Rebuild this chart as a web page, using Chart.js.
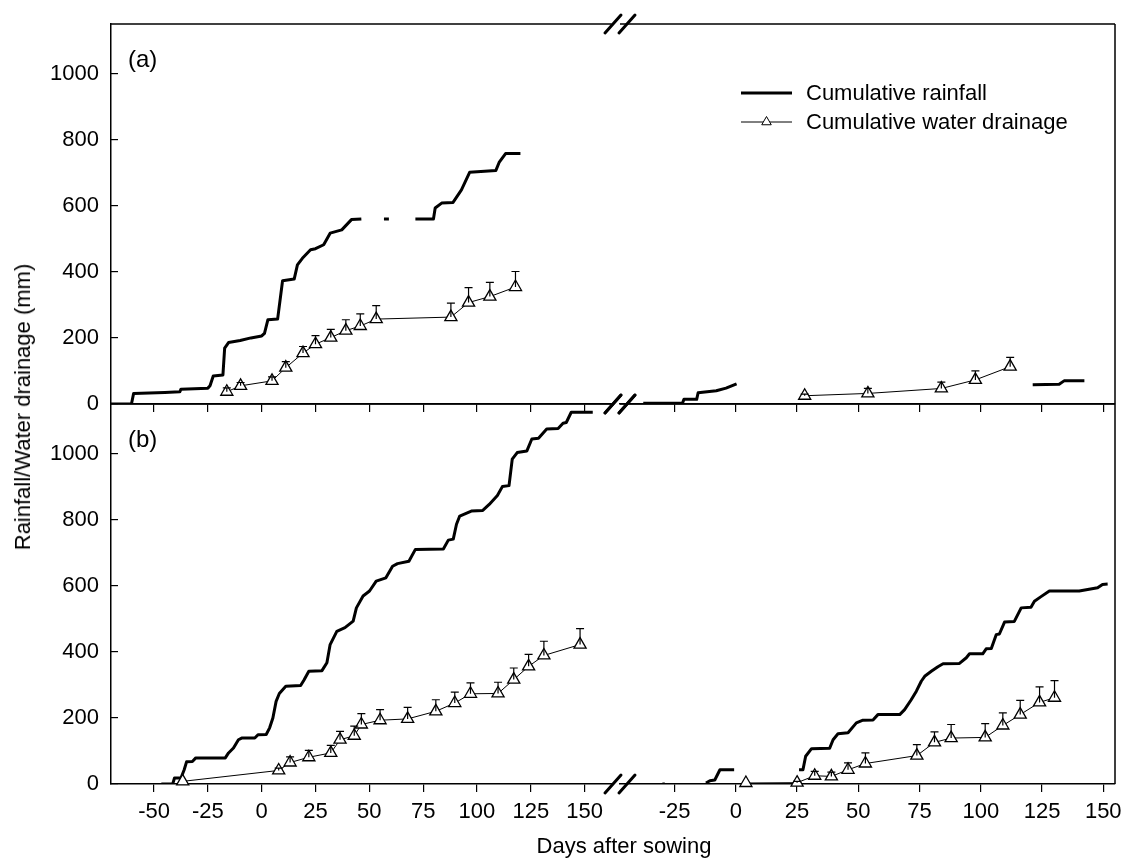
<!DOCTYPE html>
<html>
<head>
<meta charset="utf-8">
<script src="https://cdn.jsdelivr.net/npm/chart.js@4.4.1/dist/chart.umd.min.js"></script>
<style>
    body { margin: 0; background: #fff; }
    #wrap { position: relative; width: 1136px; height: 858px; overflow: hidden; font-family: "Liberation Sans", Arial, sans-serif; color: #000; }
    canvas { position: absolute; }
    #yTitle { position: absolute; left: 23px; top: 407px; transform: translate(-50%, -50%) rotate(-90deg); font-size: 22px; white-space: nowrap; }
    #xTitle { position: absolute; left: 624px; top: 846px; transform: translate(-50%, -50%); font-size: 22px; white-space: nowrap; }
</style>
</head>
<body>
<div id="wrap">
    <canvas id="chartAL" width="620" height="420" style="left:0;top:0"></canvas>
    <canvas id="chartAR" width="546" height="420" style="left:590px;top:0"></canvas>
    <canvas id="chartBL" width="620" height="478" style="left:0;top:380px"></canvas>
    <canvas id="chartBR" width="546" height="478" style="left:590px;top:380px"></canvas>
    <div id="yTitle">Rainfall/Water drainage (mm)</div>
    <div id="xTitle">Days after sowing</div>
</div>
<script>
// Eksen etiketleri
const leftDayTicks = [-50, -25, 0, 25, 50, 75, 100, 125, 150];
const rightDayTicks = [-25, 0, 25, 50, 75, 100, 125, 150];
const mmTicks = [0, 200, 400, 600, 800, 1000];
const legendLabels = ["Cumulative rainfall", "Cumulative water drainage"];

// (a) sol: kümülatif yağış (null = boşluk)
const rainA1Days = [-70, -60.5, -59.5, -45, -38, -37.5, -25, -24, -22.5, -18, -17.2, -15.4, -10, -5, 0, 1.3, 2.9, 7.4, 9.7, 15.1, 16.6, 18.9, 22.7, 25, 28.8, 31.8, 37.2, 41.7, 46.3, 46.8, 56.8, 59.1, 59.5, 71.4, 79.8, 80.6, 83.6, 88.9, 92.8, 96.6, 108.8, 110.3, 113.3, 120.2];
const rainA1 = [0, 0, 32, 35, 37, 45, 48, 55, 85, 88, 169, 186, 192, 200, 206, 214, 255, 257, 373, 378, 421, 441, 467, 470, 482, 517, 527, 558, 560, null, 560, 560, null, 560, 560, 593, 608, 610, 648, 701, 707, 731, 758, 758];
// (a) sol: drenaj
const drainA1Days = [-16.2, -9.8, 4.8, 11.2, 19.2, 25, 32.1, 39.1, 45.8, 53.2, 87.9, 96.1, 106, 117.9];
const drainA1 = [37, 55, 70, 110, 154, 181, 201, 222, 236, 257, 263, 307, 325, 354];
const drainA1Err = [12, 10, 12, 18, 20, 26, 25, 33, 37, 41, 42, 45, 43, 47];

// (a) sağ
const rainA2Days = [-37.8, -21.8, -21.2, -16, -15.4, -8, -4, 0.3, 1, 121.2, 132, 134, 142.3];
const rainA2 = [2, 2, 14, 14, 34, 40, 48, 61, null, 58, 60, 70, 70];
const drainA2Days = [28.1, 53.9, 83.9, 97.8, 112];
const drainA2 = [25, 32, 47, 73, 113];
const drainA2Err = [5, 15, 19, 27, 28];

// (b) sol
const rainB1Days = [-46.6, -41.3, -40.5, -37.5, -36, -34.9, -32.2, -30.6, -16.9, -15.4, -13.1, -10.8, -9.3, -3.2, -1.7, 2.1, 3.7, 5.2, 6.7, 8.2, 11.2, 18.1, 19.6, 21.9, 28, 30.3, 31.8, 34.9, 38.7, 42.5, 44, 47.1, 50.1, 53.2, 57.7, 60.8, 63.1, 68.4, 71.4, 84.4, 86.7, 89, 90.5, 92, 97.4, 102.7, 105.7, 109.5, 111.8, 114.9, 116.4, 118.7, 123.2, 125.5, 128.6, 132.4, 137.7, 140, 141.5, 143.8, 153.8];
const rainB1 = [0, 1, 18, 18, 43, 67, 68, 79, 79, 94, 109, 134, 139, 139, 149, 150, 170, 200, 250, 274, 296, 298, 314, 341, 343, 367, 422, 462, 473, 493, 533, 569, 584, 614, 624, 659, 667, 674, 710, 711, 738, 741, 786, 811, 826, 828, 846, 873, 900, 903, 983, 1003, 1008, 1044, 1046, 1074, 1076, 1092, 1094, 1125, 1125];
const drainB1Days = [-36.7, 7.9, 13.2, 21.9, 32.1, 36.4, 43, 46.3, 55, 67.8, 80.9, 89.7, 97, 109.8, 117.1, 124, 131.1, 147.9];
const drainB1 = [8, 41, 65, 81, 94, 134, 146, 180, 193, 197, 220, 245, 273, 274, 316, 356, 389, 422];
const drainB1Err = [0, 7, 17, 21, 23, 25, 29, 33, 32, 35, 35, 33, 33, 34, 35, 36, 43, 48];

// (b) sağ
const rainB2Days = [-30, -29, -20, -12.2, -10.6, -8.6, -6.5, -0.7, 10, 25.8, 27.4, 28.5, 30.9, 38.3, 39.7, 41.7, 45.8, 49.2, 51.9, 56, 58, 66.9, 68.9, 71.6, 73.7, 75.7, 77.1, 79.8, 82.5, 84.6, 91.3, 94.1, 95.4, 100.8, 102.2, 104.3, 106.3, 107.6, 109.7, 113.7, 116.5, 120.5, 121.9, 124.6, 128, 140.2, 147.7, 149.7, 151.8];
const rainB2 = [0, 0, null, 3, 10, 12, 43, 43, null, 43, 43, 84, 107, 108, 134, 152, 155, 185, 193, 194, 210, 210, 225, 255, 281, 311, 326, 341, 355, 364, 365, 382, 394, 394, 409, 410, 452, 454, 490, 492, 533, 535, 553, 567, 584, 584, 594, 604, 605];
const drainB2Days = [4.1, 25, 32.2, 39, 45.8, 52.9, 73.9, 81.1, 87.9, 101.8, 109, 116.1, 124, 130.1];
const drainB2 = [3, 4, 25, 23, 43, 62, 86, 126, 139, 141, 177, 210, 247, 261];
const drainB2Err = [0, 4, 13, 13, 21, 32, 33, 32, 41, 42, 38, 43, 47, 52];

const FONT = "'Liberation Sans', Arial, sans-serif";

function toPoints(days, values) {
    return days.map((d, i) => ({ x: d, y: values[i] }));
}

// Hata çubukları
const errorBars = {
    id: "errorBars",
    afterDatasetsDraw(chart) {
        const ctx = chart.ctx;
        const yScale = chart.scales.y;
        chart.data.datasets.forEach((ds, i) => {
            if (!ds.errors) return;
            const meta = chart.getDatasetMeta(i);
            ctx.save();
            ctx.strokeStyle = "#000";
            ctx.lineWidth = 1.2;
            meta.data.forEach((pt, j) => {
                const err = ds.errors[j];
                if (!err) return;
                const yTop = yScale.getPixelForValue(ds.data[j].y + err);
                ctx.beginPath();
                ctx.moveTo(pt.x, pt.y);
                ctx.lineTo(pt.x, yTop);
                ctx.moveTo(pt.x - 4, yTop);
                ctx.lineTo(pt.x + 4, yTop);
                ctx.stroke();
            });
            ctx.restore();
        });
    }
};

// Üst ve sağ çerçeve, panel etiketi, eksen kırığı, lejant
const panelDecor = {
    id: "panelDecor",
    afterDraw(chart, args, opts) {
        const { ctx, chartArea } = chart;
        ctx.save();
        ctx.strokeStyle = "#000";
        ctx.lineWidth = 1.5;
        ctx.beginPath();
        ctx.moveTo(chartArea.left, chartArea.top);
        ctx.lineTo(chartArea.right, chartArea.top);
        if (opts.rightEdge) {
            ctx.moveTo(chartArea.right, chartArea.top);
            ctx.lineTo(chartArea.right, chartArea.bottom);
        }
        ctx.stroke();

        if (opts.tag) {
            ctx.fillStyle = "#000";
            ctx.font = "24px " + FONT;
            ctx.textBaseline = "alphabetic";
            ctx.fillText(opts.tag, chartArea.left + 17, chartArea.top + 43);
        }

        if (opts.breakMarks) {
            ctx.lineWidth = 3;
            ctx.lineCap = "round";
            [chartArea.top, chartArea.bottom].forEach((y) => {
                [-7, 7].forEach((dx) => {
                    const x = chartArea.left + dx;
                    ctx.beginPath();
                    ctx.moveTo(x - 8, y + 9);
                    ctx.lineTo(x + 8, y - 9);
                    ctx.stroke();
                });
            });
        }

        if (opts.legend) {
            const x0 = 741, x1 = 792, rows = [93, 122];
            ctx.lineCap = "butt";
            ctx.lineWidth = 3;
            ctx.beginPath();
            ctx.moveTo(x0 - 590, rows[0]);
            ctx.lineTo(x1 - 590, rows[0]);
            ctx.stroke();
            ctx.lineWidth = 1;
            ctx.beginPath();
            ctx.moveTo(x0 - 590, rows[1]);
            ctx.lineTo(x1 - 590, rows[1]);
            ctx.stroke();
            const cx = (x0 + x1) / 2 - 590, r = 5.5;
            ctx.beginPath();
            ctx.moveTo(cx, rows[1] - r);
            ctx.lineTo(cx + r * 0.866, rows[1] + r / 2);
            ctx.lineTo(cx - r * 0.866, rows[1] + r / 2);
            ctx.closePath();
            ctx.fillStyle = "#fff";
            ctx.fill();
            ctx.stroke();
            ctx.fillStyle = "#000";
            ctx.font = "22px " + FONT;
            ctx.textBaseline = "middle";
            legendLabels.forEach((label, i) => ctx.fillText(label, 806 - 590, rows[i] + 1));
        }
        ctx.restore();
    }
};

function createPanel(id, cfg) {
    const ctx = document.getElementById(id).getContext("2d");
    new Chart(ctx, {
        type: "line",
        data: {
            datasets: [
                {
                    data: toPoints(cfg.drainDays, cfg.drain),
                    errors: cfg.drainErr,
                    borderColor: "#000",
                    borderWidth: 1,
                    pointStyle: "triangle",
                    pointRadius: 7,
                    pointBorderWidth: 1.3,
                    pointBorderColor: "#000",
                    pointBackgroundColor: "#fff",
                    clip: false,
                },
                {
                    data: toPoints(cfg.rainDays, cfg.rain),
                    borderColor: "#000",
                    borderWidth: 3,
                    borderJoinStyle: "round",
                    pointRadius: 0,
                    spanGaps: false,
                },
            ],
        },
        options: {
            responsive: false,
            animation: false,
            events: [],
            layout: { padding: { top: 24, left: cfg.padLeft, right: cfg.padRight, bottom: 0 } },
            plugins: {
                legend: { display: false },
                tooltip: { enabled: false },
                panelDecor: cfg.decor,
            },
            scales: {
                x: {
                    type: "linear",
                    min: cfg.xMin,
                    max: cfg.xMax,
                    afterBuildTicks: (s) => { s.ticks = cfg.xTicks.map((v) => ({ value: v })); },
                    afterFit: (s) => { s.height = cfg.xHeight; s.paddingLeft = 0; s.paddingRight = 0; },
                    grid: { display: true, drawOnChartArea: false, drawTicks: true, tickLength: 8, color: "#000", lineWidth: 1.2 },
                    border: { display: true, color: "#000", width: 1.5 },
                    ticks: {
                        display: cfg.xLabels,
                        autoSkip: false,
                        maxRotation: 0,
                        padding: 7,
                        color: "#000",
                        font: { family: FONT, size: 22 },
                        callback: (v) => String(v),
                    },
                },
                y: {
                    type: "linear",
                    min: 0,
                    max: 1150,
                    display: cfg.yLabels,
                    afterBuildTicks: (s) => { s.ticks = mmTicks.map((v) => ({ value: v })); },
                    afterFit: (s) => { if (cfg.yLabels) { s.width = 111; s.paddingTop = 0; s.paddingBottom = 0; } },
                    grid: { display: true, drawOnChartArea: false, drawTicks: true, tickLength: -7, color: "#000", lineWidth: 1.2 },
                    border: { display: true, color: "#000", width: 1.5 },
                    ticks: {
                        padding: 19,
                        color: "#000",
                        font: { family: FONT, size: 22 },
                        callback: (v) => String(v),
                    },
                },
            },
        },
        plugins: [errorBars, panelDecor],
    });
}

createPanel("chartAL", {
    rainDays: rainA1Days, rain: rainA1, drainDays: drainA1Days, drain: drainA1, drainErr: drainA1Err,
    xMin: -70, xMax: 162.6, xTicks: leftDayTicks, xLabels: false, yLabels: true,
    padLeft: 0, padRight: 0, xHeight: 16,
    decor: { tag: "(a)" },
});
createPanel("chartAR", {
    rainDays: rainA2Days, rain: rainA2, drainDays: drainA2Days, drain: drainA2, drainErr: drainA2Err,
    xMin: -47.3, xMax: 154.8, xTicks: rightDayTicks, xLabels: false, yLabels: false,
    padLeft: 30, padRight: 21, xHeight: 16,
    decor: { rightEdge: true, breakMarks: true, legend: true },
});
createPanel("chartBL", {
    rainDays: rainB1Days, rain: rainB1, drainDays: drainB1Days, drain: drainB1, drainErr: drainB1Err,
    xMin: -70, xMax: 162.6, xTicks: leftDayTicks, xLabels: true, yLabels: true,
    padLeft: 0, padRight: 0, xHeight: 74,
    decor: { tag: "(b)" },
});
createPanel("chartBR", {
    rainDays: rainB2Days, rain: rainB2, drainDays: drainB2Days, drain: drainB2, drainErr: drainB2Err,
    xMin: -47.3, xMax: 154.8, xTicks: rightDayTicks, xLabels: true, yLabels: false,
    padLeft: 30, padRight: 21, xHeight: 74,
    decor: { rightEdge: true, breakMarks: true },
});
</script>
</body>
</html>
